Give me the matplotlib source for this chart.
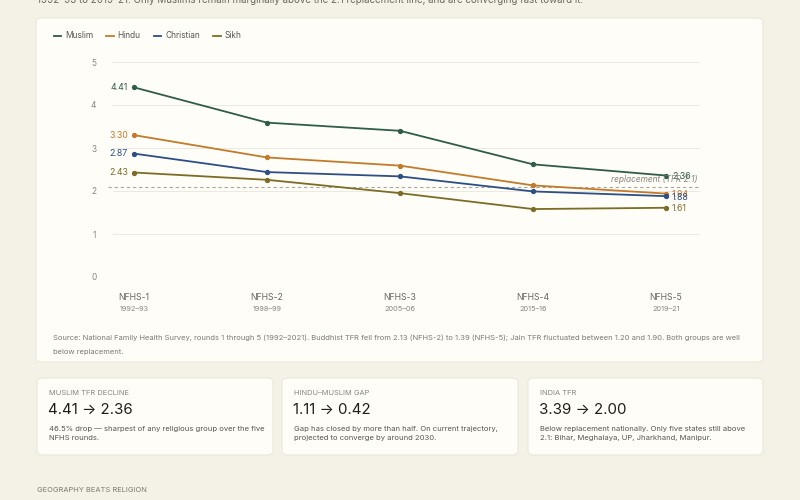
import matplotlib.pyplot as plt
from matplotlib.patches import FancyBboxPatch
from matplotlib.lines import Line2D

plt.rcParams['font.family'] = ['Inter', 'DejaVu Sans']

rounds = ['NFHS-1', 'NFHS-2', 'NFHS-3', 'NFHS-4', 'NFHS-5']
years = ['1992–93', '1998–99', '2005–06', '2015–16', '2019–21']
groups = ['Muslim', 'Hindu', 'Christian', 'Sikh']
muslim = [4.41, 3.59, 3.40, 2.62, 2.36]
hindu = [3.30, 2.78, 2.59, 2.13, 1.94]
christian = [2.87, 2.44, 2.34, 1.99, 1.88]
sikh = [2.43, 2.26, 1.95, 1.58, 1.61]
replacement = 2.1

colors = ['#2f5d45', '#c27b2b', '#2d4f85', '#7d6c26']
series = [muslim, hindu, christian, sikh]

stat_labels = ['MUSLIM TFR DECLINE', 'HINDU–MUSLIM GAP', 'INDIA TFR']
stat_values = ['4.41 → 2.36', '1.11 → 0.42', '3.39 → 2.00']
stat_notes = [
    '46.5% drop — sharpest of any religious group over the five\nNFHS rounds.',
    'Gap has closed by more than half. On current trajectory,\nprojected to converge by around 2030.',
    'Below replacement nationally. Only five states still above\n2.1: Bihar, Meghalaya, UP, Jharkhand, Manipur.',
]

W, H = 800, 500
fig = plt.figure(figsize=(8, 5), dpi=100)
fig.patch.set_facecolor('#f4f1e7')


def fx(x):
    return x / W


def fy(y):
    return 1 - y / H


def card(x0, y0, x1, y1):
    p = FancyBboxPatch((fx(x0), fy(y1)), fx(x1 - x0), (y1 - y0) / H,
                       boxstyle='round,pad=0,rounding_size=0.008',
                       transform=fig.transFigure, facecolor='#fefdf8',
                       edgecolor='#ebe7da', linewidth=0.8, zorder=-5)
    fig.patches.append(p)


# subtitle (cut off at the top)
fig.text(fx(37), fy(3), '1992–93 to 2019–21. Only Muslims remain marginally above the 2.1 '
         'replacement line, and are converging fast toward it.',
         fontsize=7, color='#6b675e', va='baseline')

card(36, 18, 763, 362)

# main axes: x 0..4 -> px 134..666, y 0..5 -> px 277..62
x_left, x_right = 113, 700
xl = -(134 - x_left) / 133
xr = 4 + (x_right - 666) / 133
ax = fig.add_axes([fx(x_left), fy(277), fx(x_right - x_left), (277 - 62) / H])
ax.set_facecolor('none')
ax.set_xlim(xl, xr)
ax.set_ylim(0, 5)
for s in ax.spines.values():
    s.set_visible(False)
ax.set_yticks([0, 1, 2, 3, 4, 5])
ax.tick_params(axis='y', length=0, labelsize=6, labelcolor='#8a867c', pad=12)
ax.set_xticks([])
ax.grid(axis='y', color='#ece9e0', linewidth=0.7)

xs = list(range(len(rounds)))
for name, vals, c in zip(groups, series, colors):
    ax.plot(xs, vals, color=c, linewidth=1.3, marker='o', markersize=2.8, label=name,
            clip_on=False, zorder=3)
    ax.text(xs[0] - 0.045, vals[0], f'{vals[0]:.2f}', color=c, fontsize=6.3,
            ha='right', va='center')
    ax.text(xs[-1] + 0.045, vals[-1] - 0.02, f'{vals[-1]:.2f}', color=c, fontsize=6.3,
            ha='left', va='center')

ax.plot([xl - 0.04, xr], [replacement, replacement], color='#aaa69c', linewidth=0.8,
        linestyle=(0, (3, 2.5)), clip_on=False, zorder=2)
ax.text(xr - 0.02, replacement + 0.07, 'replacement (TFR 2.1)', fontsize=6,
        style='italic', color='#8a867c', ha='right', va='bottom')

for i, (r, yr) in enumerate(zip(rounds, years)):
    ax.text(i, -0.47, r, fontsize=6.3, color='#6b675e', ha='center', va='center')
    ax.text(i, -0.75, yr, fontsize=5.3, color='#8a867c', ha='center', va='center')

handles = [Line2D([], [], color=c, linewidth=1.3) for c in colors]
fig.legend(handles, groups, loc='center left', bbox_to_anchor=(fx(46), fy(36)),
           ncol=4, frameon=False, fontsize=6, handlelength=0.9, handletextpad=0.45,
           columnspacing=1.6, labelcolor='#5a564e')

fig.text(fx(53), fy(338), 'Source: National Family Health Survey, rounds 1 through 5 (1992–2021). '
         'Buddhist TFR fell from 2.13 (NFHS-2) to 1.39 (NFHS-5); Jain TFR fluctuated between '
         '1.20 and 1.90. Both groups are well', fontsize=5.45, color='#7d7970', va='center')
fig.text(fx(53), fy(352), 'below replacement.', fontsize=5.45, color='#7d7970', va='center')

# stat cards
card_x = [(37, 273), (282, 518), (528, 763)]
for (x0, x1), lab, val, note in zip(card_x, stat_labels, stat_values, stat_notes):
    card(x0, 378, x1, 455)
    fig.text(fx(x0 + 12), fy(393), lab, fontsize=5.4, color='#8a867c', va='center')
    fig.text(fx(x0 + 11), fy(410), val, fontsize=10.8, color='#1f1d1a', va='center')
    fig.text(fx(x0 + 12), fy(433.5), note, fontsize=5.5, color='#5a564e', va='center',
             linespacing=1.7)

fig.text(fx(37), fy(490), 'GEOGRAPHY BEATS RELIGION', fontsize=5.4, color='#7d7970',
         va='center')

fig.savefig('out.png', dpi=100, facecolor=fig.get_facecolor())
